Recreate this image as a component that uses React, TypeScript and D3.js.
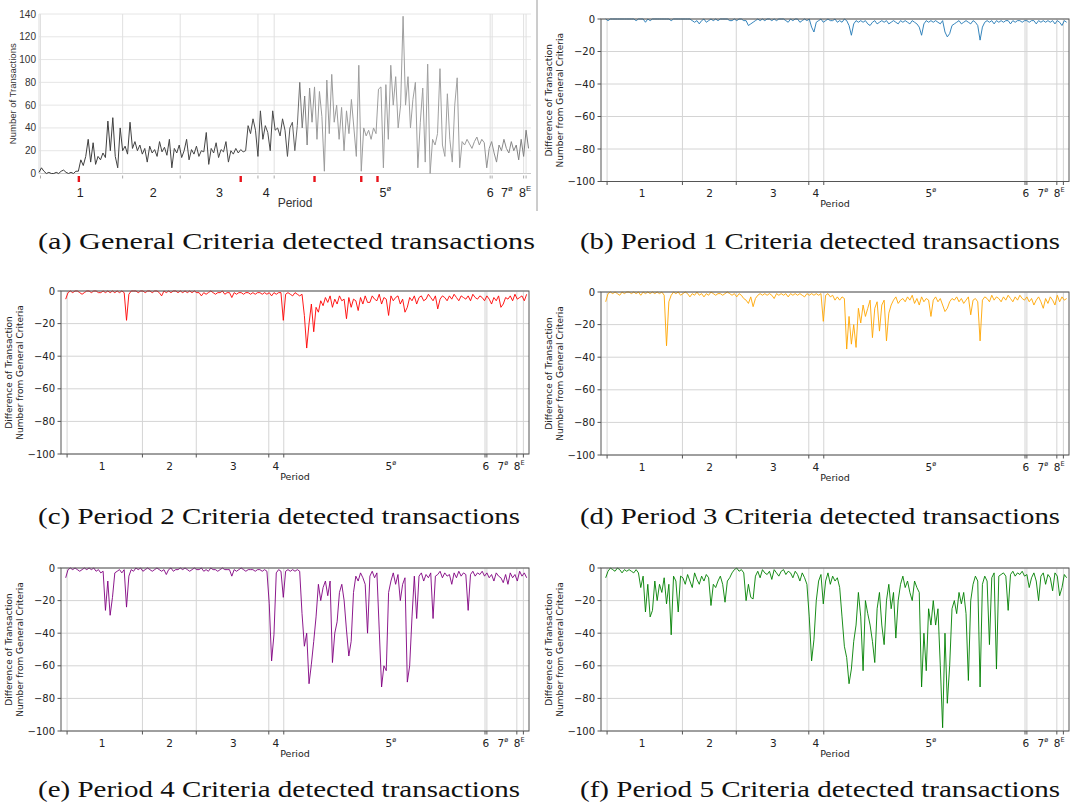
import React from 'react';
import * as d3 from 'd3';

// sampled roughly every 5 units along a 0..1000 period axis
const generalCounts = [
  1, 5, 2, 0, 1, 0, 0, 1, 0, 2,
  3, 1, 0, 1, 0, 2, 2, 12, 7, 15,
  30, 10, 27, 8, 15, 12, 18, 14, 46, 20,
  49, 15, 5, 40, 20, 24, 17, 45, 22, 28,
  20, 25, 17, 22, 10, 24, 18, 21, 15, 28,
  19, 23, 16, 30, 5, 22, 18, 25, 14, 20,
  30, 12, 21, 17, 24, 15, 20, 19, 36, 8,
  22, 18, 27, 14, 21, 19, 28, 10, 20, 17,
  22, 18, 21, 19, 20, 42, 35, 48, 38, 15,
  55, 30, 42, 36, 20, 55, 38, 40, 33, 48,
  38, 15, 40, 45, 20, 42, 80, 40, 68, 25,
  75, 45, 76, 30, 72, 50, 2, 82, 35, 87,
  45, 60, 30, 58, 20, 55, 35, 65, 40, 15,
  95, 2, 40, 33, 38, 30, 40, 35, 74, 76,
  5, 78, 30, 95, 60, 85, 40, 60, 138, 60,
  85, 40, 65, 80, 5, 45, 75, 10, 96, 0,
  30, 25, 35, 92, 25, 15, 70, 30, 10, 60,
  84, 5, 28, 25, 30, 26, 22, 28, 32, 25,
  30, 27, 5, 22, 28, 18, 10, 25, 20, 30,
  22, 18, 28, 20, 25, 12, 30, 15, 38, 22,
];

const period1Diff = [
  0, -1, 0, 0, 0, 0, 0, 0, 0, 0,
  0, 0, 0, -1, 0, 0, 0, -2, 0, -1,
  0, 0, 0, 0, 0, 0, 0, 0, -1, 0,
  0, 0, 0, 0, 0, 0, 0, -1, -2, -1,
  -3, -1, 0, -2, -1, 0, -1, 0, -1, 0,
  0, 0, 0, -1, -1, 0, -1, 0, 0, -1,
  -1, -4, -3, -2, -1, 0, -1, 0, -1, 0,
  0, -1, 0, -1, 0, 0, 0, -1, -2, 0,
  -1, 0, 0, -2, -1, 0, -1, 0, -5, -8,
  -2, -1, 0, -2, -1, 0, -1, -1, 0, -2,
  -1, -2, 0, -1, -4, -10, -3, -1, -2, -1,
  -2, -1, -3, -4, -2, -1, -3, -2, -1, -2,
  -1, -3, -2, -1, -2, -3, -1, -2, -1, -2,
  -3, -1, -2, -3, -5, -10, -3, -1, -2, -1,
  -2, -1, -2, -3, -1, -8, -11, -9, -4, -3,
  -2, -1, -3, -2, -1, -2, -3, -1, -2, -4,
  -13, -5, -2, -1, -2, -1, -3, -1, -2, -1,
  -2, -1, -1, -3, -1, -2, -1, -1, -2, -1,
  -1, -2, -1, -1, -3, -1, -2, -1, -2, -1,
  -2, -1, -3, -1, -2, -4, -1, -2,
];

const period2Diff = [
  -5, -1, 0, -1, 0, 0, -1, -2, -1, 0,
  0, -1, 0, 0, -1, -1, 0, -1, 0, -1,
  0, -1, 0, -1, 0, -1, -18, -2, 0, 0,
  0, -1, 0, 0, -1, 0, 0, -1, 0, 0,
  -1, -3, 0, -1, 0, -1, 0, 0, -1, 0,
  -1, 0, -1, 0, -1, 0, -1, -1, -3, -1,
  -2, -1, 0, -1, -2, -1, -1, 0, -2, -1,
  -1, -4, -1, -2, -1, -1, -2, -1, -1, -2,
  -1, -2, -1, -1, -2, -1, -2, -1, -3, -1,
  -2, -1, -1, -18, -2, -1, -2, -3, -1, -2,
  -3, -2, -15, -35, -20, -8, -25, -10, -13, -6,
  -9, -4, -7, -3, -10, -5, -8, -3, -6, -5,
  -17, -4, -10, -5, -6, -12, -4, -8, -3, -7,
  -7, -3, -5, -6, -2, -8, -4, -5, -15, -3,
  -6, -4, -3, -8, -5, -13, -10, -4, -6, -3,
  -8, -4, -3, -6, -5, -2, -4, -6, -3, -11,
  -5, -3, -4, -6, -3, -5, -2, -4, -6, -3,
  -4, -5, -3, -6, -2, -4, -5, -3, -4, -6,
  -3, -5, -8, -4, -6, -3, -10, -8, -4, -5,
  -3, -6, -2, -5, -4, -3, -6, -2,
];

const period3Diff = [
  -6, -1, 0, -1, 0, -1, -2, 0, -1, 0,
  0, -1, 0, -1, 0, -2, 0, -1, 0, -1,
  0, -1, 0, -1, 0, -2, -33, -6, -2, 0,
  -1, 0, -2, -1, 0, -1, -3, -1, -2, 0,
  -2, -1, -3, -1, -2, 0, -1, -2, -1, -1,
  -2, -1, 0, -1, -2, -1, -3, -1, -2, -4,
  -5, -7, -3, -9, -4, -2, -1, -2, -1, -2,
  -1, -2, -4, -1, -2, -1, -2, -1, -3, -1,
  -2, -1, -2, -1, -2, -3, -1, -2, -1, -2,
  -1, -2, -1, -18, -2, -1, -3, -2, -5, -3,
  -5, -3, -4, -35, -15, -32, -20, -34, -10, -19,
  -8, -15, -10, -5, -28, -10, -6, -24, -8, -5,
  -30, -13, -8, -5, -3, -7, -5, -4, -6, -3,
  -5, -2, -7, -4, -8, -3, -6, -4, -5, -15,
  -5, -3, -6, -4, -8, -12, -10, -6, -4, -5,
  -3, -6, -4, -7, -5, -3, -14, -5, -4, -6,
  -30, -5, -3, -4, -6, -2, -5, -3, -4, -6,
  -3, -5, -2, -4, -6, -3, -5, -2, -4, -5,
  -3, -6, -4, -8, -5, -3, -6, -10, -4, -7,
  -3, -5, -8, -2, -6, -3, -5, -4,
];

const period4Diff = [
  -6, -1, 0, -1, 0, -1, -2, -1, 0, -1,
  0, -1, 0, -2, -1, -3, -2, -26, -8, -29,
  -18, -3, -2, -1, -3, -1, -24, -5, -1, -2,
  0, -1, 0, -2, -1, 0, -1, -2, -1, 0,
  -1, -2, -1, -4, -1, 0, -2, -1, -1, 0,
  -1, 0, -1, -2, -1, 0, -1, -1, 0, -2,
  -1, -2, 0, -1, -1, -2, -1, 0, -1, -1,
  -1, -5, -1, -2, -1, 0, -1, -2, -1, -1,
  -1, -2, -1, -1, -2, -1, -2, -22, -57, -41,
  -3, -1, -2, -18, -2, -1, -2, -1, -2, -1,
  -2, -28, -48, -40, -71, -59, -45, -30, -10, -20,
  -12, -8, -17, -8, -58, -40, -33, -15, -10, -20,
  -38, -54, -45, -15, -5, -8, -3, -6, -10, -40,
  -5, -2, -6, -3, -38, -73, -60, -63, -15, -8,
  -3, -10, -4, -20, -10, -6, -70, -60, -30, -5,
  -31, -5, -3, -8, -4, -6, -3, -31, -5, -4,
  -2, -6, -3, -5, -4, -10, -3, -6, -2, -5,
  -3, -4, -26, -4, -2, -5, -3, -4, -2, -5,
  -3, -6, -4, -8, -3, -5, -6, -9, -4, -10,
  -3, -6, -4, -8, -2, -5, -3, -6,
];

const period5Diff = [
  -6, -2, 0, -1, -2, 0, -1, -3, -1, -2,
  -1, -2, -3, -1, -3, -12, -5, -27, -10, -30,
  -26, -8, -20, -10, -15, -6, -22, -10, -41, -5,
  -8, -27, -5, -6, -10, -4, -8, -12, -3, -7,
  -10, -5, -8, -4, -6, -23, -10, -12, -8, -5,
  -10, -21, -8, -6, -3, -1, 0, -2, -1, -3,
  -20, -10, -18, -19, -5, -2, -6, -1, -3, -4,
  -2, -7, -1, -3, -5, -2, -1, -4, -2, -3,
  -6, -2, -4, -8, -3, -6, -10, -30, -57, -44,
  -20, -8, -4, -22, -8, -3, -10, -5, -8, -6,
  -12, -30, -48, -55, -71, -62, -45, -35, -15, -30,
  -63, -20, -28, -35, -45, -58, -25, -15, -35, -47,
  -20, -10, -25, -15, -43, -20, -10, -5, -12, -8,
  -15, -20, -8, -12, -15, -73, -40, -63, -25, -35,
  -20, -35, -25, -60, -98, -40, -83, -60, -25, -20,
  -28, -15, -22, -15, -28, -69, -20, -10, -5, -8,
  -73, -10, -5, -8, -47, -6, -3, -62, -5, -4,
  -3, -5, -26, -4, -2, -5, -3, -4, -2, -5,
  -4, -12, -6, -3, -8, -20, -5, -3, -10, -4,
  -6, -14, -3, -5, -17, -12, -4, -6,
];

const sampleStep = 5;
const diffStart = 10;

const generalBoundaries = [3, 170, 287, 445, 478, 917, 921, 985, 990];
const diffBoundaries = [13, 174, 289, 444, 476, 906, 910, 974, 988];
const periodNames = ['1', '2', '3', '4', '5', '6', '7', '8'];
const periodSup = ['', '', '', '', 'ø', '', 'ø', 'E'];
const generalLabelPos = [84, 232, 367, 462, 704, 917, 951, 988];
const diffLabelPos = [88, 232, 368, 459, 705, 908, 944, 979];
const redMarks = [81, 410, 560, 655, 688];
const generalTicks = [0, 20, 40, 60, 80, 100, 120, 140];
const diffTicks = [0, -20, -40, -60, -80, -100];

const captions = [
  '(a) General Criteria detected transactions',
  '(b) Period 1 Criteria detected transactions',
  '(c) Period 2 Criteria detected transactions',
  '(d) Period 3 Criteria detected transactions',
  '(e) Period 4 Criteria detected transactions',
  '(f) Period 5 Criteria detected transactions',
];

const SANS = 'DejaVu Sans, sans-serif';

function PeriodLabels({ x, y, positions, size, family }) {
  return (
    <g fontFamily={family} fontSize={size} fill="#222" textAnchor="middle">
      {periodNames.map((p, i) => (
        <text key={p} x={x(positions[i])} y={y}>
          {p}
          {periodSup[i] && (
            <tspan fontSize={size * 0.62} dy={-size * 0.45}>{periodSup[i]}</tspan>
          )}
        </text>
      ))}
    </g>
  );
}

function GeneralPanel() {
  const left = 39, right = 531, top = 14, bottom = 173.5;
  const x = d3.scaleLinear().domain([0, 1000]).range([left, right]);
  const y = d3.scaleLinear().domain([0, 140]).range([bottom, top]);
  const line = d3.line<number>().x((_, i) => x(i * sampleStep)).y((d) => y(d));
  return (
    <g>
      <defs>
        <linearGradient id="genGrad" gradientUnits="userSpaceOnUse" x1={left} x2={right} y1={0} y2={0}>
          <stop offset="0" stopColor="#3a3a3a" />
          <stop offset="0.5" stopColor="#4a4a4a" />
          <stop offset="0.56" stopColor="#9a9a9a" />
          <stop offset="0.85" stopColor="#a0a0a0" />
          <stop offset="1" stopColor="#7a7a7a" />
        </linearGradient>
      </defs>
      {generalTicks.map((t) => (
        <line key={t} x1={left} x2={right} y1={y(t)} y2={y(t)} stroke={t === 0 ? '#c8c8c8' : '#e6e6e6'} />
      ))}
      <line x1={left} x2={left} y1={top} y2={bottom} stroke="#dcdcdc" />
      {generalBoundaries.map((b, i) => (
        <g key={i}>
          <line x1={x(b)} x2={x(b)} y1={top} y2={bottom} stroke="#e0e0e0" />
          <line x1={x(b)} x2={x(b)} y1={bottom + 2} y2={bottom + 5} stroke="#aaa" />
        </g>
      ))}
      <path d={line(generalCounts) || ''} fill="none" stroke="url(#genGrad)" strokeWidth={1} />
      {redMarks.map((m) => (
        <rect key={m} x={x(m) - 1.2} y={176} width={2.4} height={6} fill="#e8141b" />
      ))}
      <g fontFamily="Liberation Sans, Arial, sans-serif" fontSize={10} fill="#333" textAnchor="end">
        {generalTicks.map((t) => (
          <text key={t} x={left - 3} y={y(t) + 3.5}>{t}</text>
        ))}
      </g>
      <text transform={`translate(16,${(top + bottom) / 2}) rotate(-90)`} textAnchor="middle"
        fontFamily="Liberation Sans, Arial, sans-serif" fontSize={9.5} fill="#333">
        Number of Transactions
      </text>
      <PeriodLabels x={x} y={197} positions={generalLabelPos} size={12.5} family="Liberation Sans, Arial, sans-serif" />
      <text x={295} y={207} textAnchor="middle" fontFamily="Liberation Sans, Arial, sans-serif" fontSize={12} fill="#333">
        Period
      </text>
      <line x1={537} x2={537} y1={0} y2={211} stroke="#9a9a9a" />
    </g>
  );
}

function DiffPanel({ left, top, bottom, values, color }) {
  const right = left + 468;
  const x = d3.scaleLinear().domain([0, 1000]).range([left, right]);
  const y = d3.scaleLinear().domain([-100, 0]).range([bottom, top]);
  const line = d3.line<number>().x((_, i) => x(diffStart + i * sampleStep)).y((d) => y(d));
  const mid = (top + bottom) / 2;
  return (
    <g>
      {diffTicks.map((t) => (
        <line key={t} x1={left} x2={right} y1={y(t)} y2={y(t)} stroke="#d4d4d4" />
      ))}
      {diffBoundaries.map((b, i) => (
        <g key={i}>
          <line x1={x(b)} x2={x(b)} y1={top} y2={bottom} stroke="#d4d4d4" />
          <line x1={x(b)} x2={x(b)} y1={bottom} y2={bottom + 3.5} stroke="#555" />
        </g>
      ))}
      <path d={line(values) || ''} fill="none" stroke={color} strokeWidth={0.9} strokeLinejoin="miter" />
      <rect x={left} y={top} width={right - left} height={bottom - top} fill="none" stroke="#555" strokeWidth={1} />
      {diffTicks.map((t) => (
        <g key={t}>
          <line x1={left - 3.5} x2={left} y1={y(t)} y2={y(t)} stroke="#555" />
          <text x={left - 6} y={y(t) + 3.6} textAnchor="end" fontFamily={SANS} fontSize={10} fill="#222">
            {t < 0 ? '\u2212' + Math.abs(t) : t}
          </text>
        </g>
      ))}
      <text transform={`translate(${left - 49},${mid}) rotate(-90)`} textAnchor="middle" fontFamily={SANS} fontSize={9} fill="#222">
        Difference of Transaction
      </text>
      <text transform={`translate(${left - 38},${mid}) rotate(-90)`} textAnchor="middle" fontFamily={SANS} fontSize={9} fill="#222">
        Number from General Criteria
      </text>
      <PeriodLabels x={x} y={bottom + 15.5} positions={diffLabelPos} size={10.5} family={SANS} />
      <text x={(left + right) / 2} y={bottom + 25.5} textAnchor="middle" fontFamily={SANS} fontSize={9.5} fill="#222">
        Period
      </text>
    </g>
  );
}

function Caption({ x, y, width, text }) {
  return (
    <text x={x} y={y} fontFamily="Liberation Serif, serif" fontSize={23} fill="#111"
      textLength={width} lengthAdjust="spacingAndGlyphs">
      {text}
    </text>
  );
}

export default function App() {
  return (
    <svg width={1074} height={807} style={{ position: 'absolute', left: 0, top: 0, background: '#fff' }}>
      <GeneralPanel />
      <DiffPanel left={601} top={19} bottom={181.5} values={period1Diff} color="#1f77b4" />
      <DiffPanel left={61} top={291} bottom={454} values={period2Diff} color="#ff0000" />
      <DiffPanel left={601} top={292} bottom={455} values={period3Diff} color="#ffa500" />
      <DiffPanel left={61} top={568} bottom={731} values={period4Diff} color="#800080" />
      <DiffPanel left={601} top={568} bottom={731} values={period5Diff} color="#008000" />
      <Caption x={38} y={249} width={497} text={captions[0]} />
      <Caption x={580} y={249} width={480} text={captions[1]} />
      <Caption x={38} y={524} width={482} text={captions[2]} />
      <Caption x={580} y={524} width={480} text={captions[3]} />
      <Caption x={38} y={797} width={482} text={captions[4]} />
      <Caption x={580} y={797} width={480} text={captions[5]} />
    </svg>
  );
}
